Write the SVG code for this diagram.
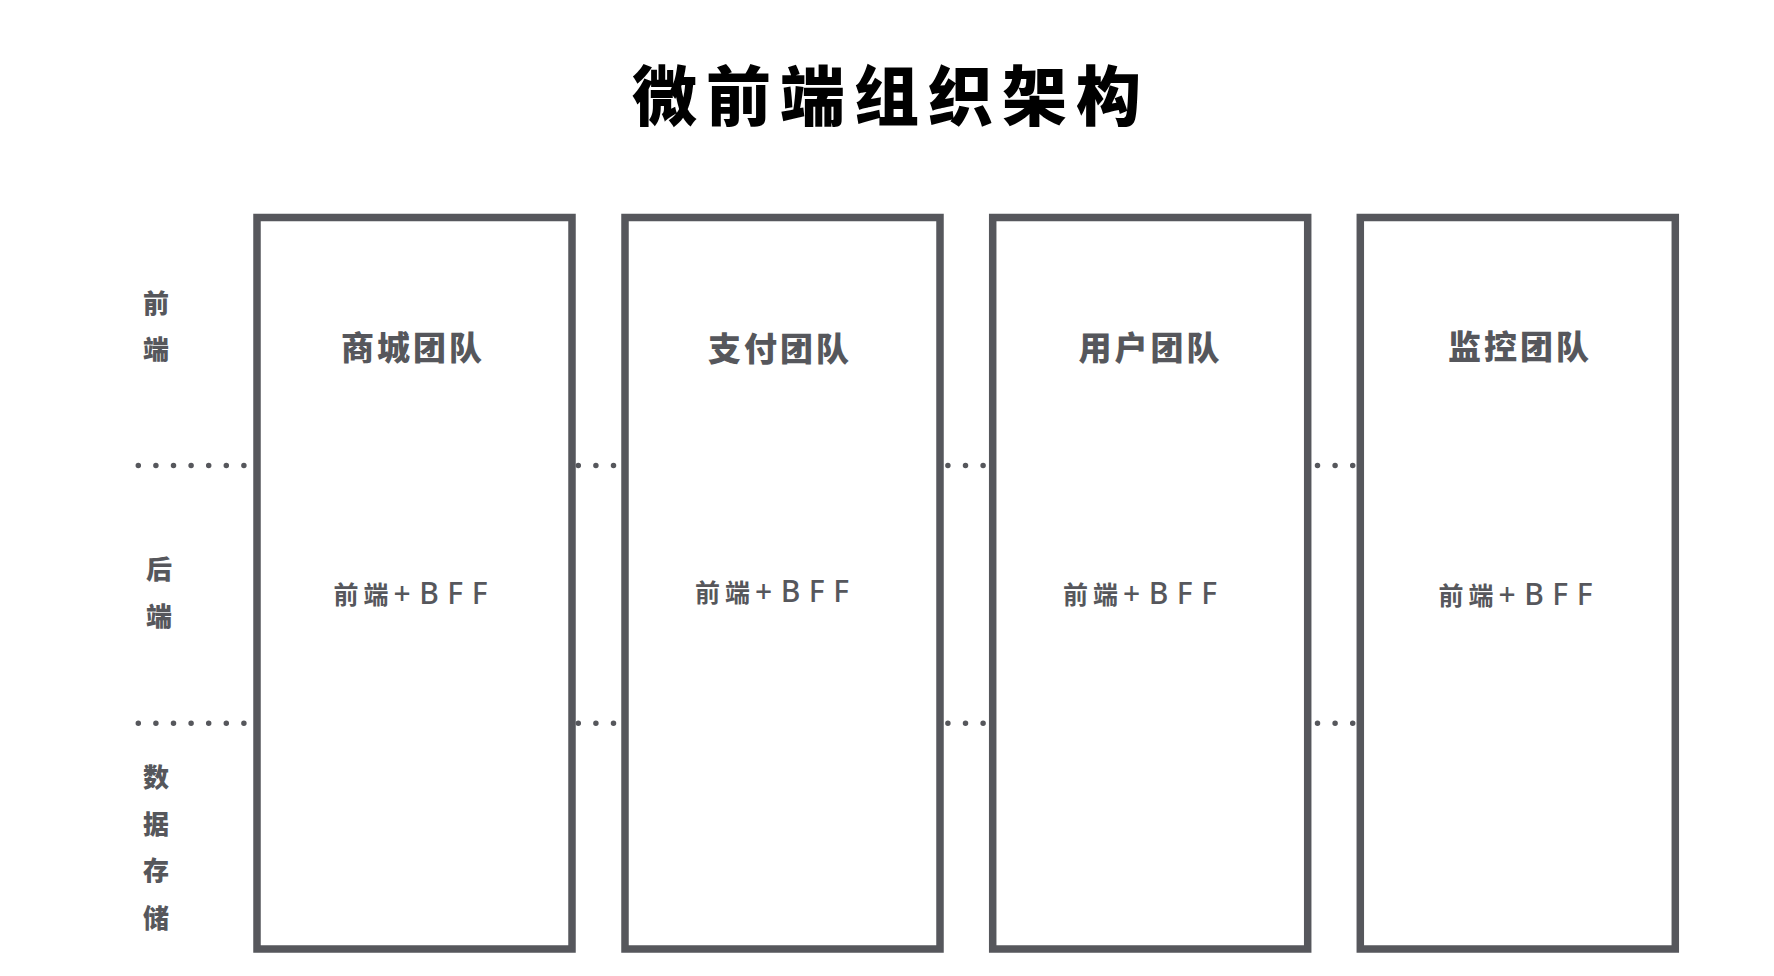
<svg xmlns="http://www.w3.org/2000/svg" width="1774" height="976" viewBox="0 0 1774 976">
  <style>
    .bg { fill: #ffffff; }
    .box { fill: #ffffff; stroke: #56575c; stroke-width: 7.5; }
    .dots { fill: none; stroke: #56575c; stroke-width: 5.5; stroke-linecap: round; stroke-dasharray: 0 17.6; }
    .title { font-family: "Noto Sans CJK SC", "Noto Sans", sans-serif; font-weight: 900; font-size: 65px; fill: #000000; letter-spacing: 9px; }
    .team { font-family: "Noto Sans CJK SC", "Noto Sans", sans-serif; font-weight: 900; font-size: 33px; fill: #56575c; letter-spacing: 3px; }
    .sub { font-family: "Noto Sans CJK SC", "Noto Sans", sans-serif; font-weight: 700; font-size: 25px; fill: #56575c; letter-spacing: 5px; }
    .sub .lat { font-family: "Noto Sans", sans-serif; letter-spacing: 8.5px; font-weight: 500; font-size: 30px; }
    .side { font-family: "Noto Sans CJK SC", "Noto Sans", sans-serif; font-weight: 900; font-size: 26px; fill: #56575c; text-anchor: middle; }
  </style>
  <rect class="bg" x="0" y="0" width="1774" height="976"/>

  <g id="title">
    <text class="title" x="632" y="120">微前端组织架构</text>
  </g>

  <g id="connectors">
    <line class="dots" x1="138.3" y1="465.5" x2="1356" y2="465.5"/>
    <line class="dots" x1="138.3" y1="723.3" x2="1356" y2="723.3"/>
  </g>

  <g id="layer-labels">
    <text class="side" x="156" y="313">前</text>
    <text class="side" x="156" y="359">端</text>
    <text class="side" x="159" y="579">后</text>
    <text class="side" x="159" y="626">端</text>
    <text class="side" x="156" y="787">数</text>
    <text class="side" x="156" y="834">据</text>
    <text class="side" x="156" y="880">存</text>
    <text class="side" x="156" y="928">储</text>
  </g>

  <g id="team-mall">
    <rect class="box" x="257" y="217.5" width="315" height="731.5"/>
    <text class="team" x="341" y="359.5">商城团队</text>
    <text class="sub" x="333.5" y="604">前端<tspan class="lat">+BFF</tspan></text>
  </g>

  <g id="team-pay">
    <rect class="box" x="625" y="217.5" width="315" height="731.5"/>
    <text class="team" x="708" y="360.5">支付团队</text>
    <text class="sub" x="695" y="602">前端<tspan class="lat">+BFF</tspan></text>
  </g>

  <g id="team-user">
    <rect class="box" x="992.7" y="217.5" width="315" height="731.5"/>
    <text class="team" x="1078.5" y="359.5">用户团队</text>
    <text class="sub" x="1063" y="604">前端<tspan class="lat">+BFF</tspan></text>
  </g>

  <g id="team-monitor">
    <rect class="box" x="1360.3" y="217.5" width="315" height="731.5"/>
    <text class="team" x="1448" y="359">监控团队</text>
    <text class="sub" x="1438.5" y="605">前端<tspan class="lat">+BFF</tspan></text>
  </g>
</svg>
